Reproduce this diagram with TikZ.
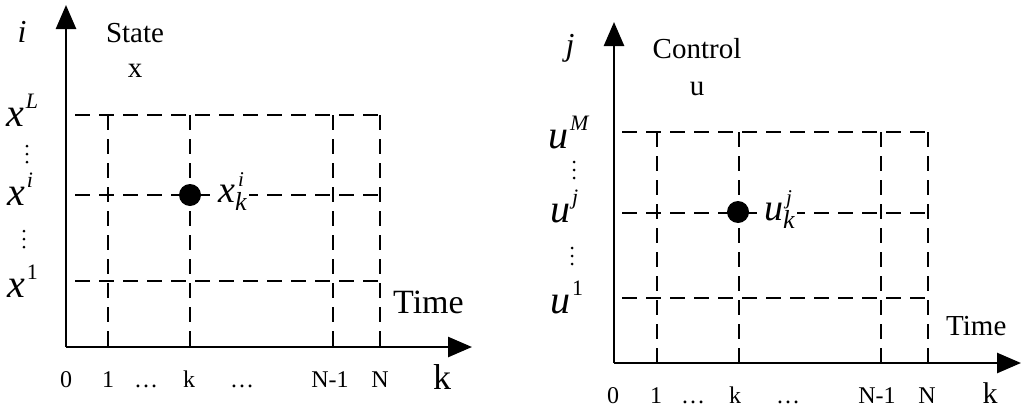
\documentclass[tikz,border=0pt]{standalone}
\usepackage{fontspec}
\setmainfont{Liberation Serif}
\usetikzlibrary{arrows.meta}
\newcommand\fs[1]{\fontsize{#1}{#1}\selectfont}
% variable with superscript
\newcommand\varsup[4]{{\fs{#1}\itshape #2}\hspace{2pt}\raisebox{#4}{\fs{22}\itshape #3}}
% variable with sub and superscript
\newcommand\varsubsup[3]{{\fs{38}\itshape #1}\rlap{\raisebox{16pt}{\hspace{3pt}\fs{21}\itshape #3}}\raisebox{-8pt}{\fs{26}\itshape #2}}
\newcommand\vdts{\tikz[baseline]{\foreach \yy in {0,8,16}{\fill (0,\yy pt) circle (1.5pt);}}}
\tikzset{
  ax/.style={line width=2.6pt, -{Triangle[length=24pt,width=20pt]}},
  gridline/.style={line width=2.5pt, dash pattern=on 15pt off 9pt},
  lbl/.style={inner sep=0pt, anchor=base},
  lblw/.style={inner sep=0pt, anchor=base west},
  dotnode/.style={circle, fill=black, minimum size=22pt, inner sep=0pt},
}
\begin{document}
\begin{tikzpicture}[x=1pt,y=-1pt]
\useasboundingbox (0,0) rectangle (1024,415);
%% ---------------- left panel ----------------
\coordinate (LO) at (66,347);
\coordinate (LY) at (66,5);
\coordinate (LX) at (472,347);
\foreach \yy/\nm in {115/t,195/m,281/b}{
  \coordinate (Lh\nm s) at (75,\yy);
  \coordinate (Lh\nm e) at (380,\yy);
}
\draw[gridline] (Lhts) -- (Lhte);
\draw[gridline] (Lhbs) -- (Lhbe);
\draw[gridline] (Lhms) -- (Lhme);
\foreach \xx/\nm in {108/a,190/b,333/c,380/d}{
  \coordinate (Lv\nm s) at (\xx,115);
  \coordinate (Lv\nm e) at (\xx,347);
  \draw[gridline] (Lv\nm s) -- (Lv\nm e);
}
\draw[ax] (LO) -- (LY);
\draw[ax] (LO) -- (LX);
\node[dotnode] (Ldot) at (190,195) {};
\node[lblw, fill=white, inner sep=2pt] (Ldotl) at (216,202) {\varsubsup{x}{k}{i}};
\node[lbl] (Li) at (22,42) {\fs{32}\itshape i};
\node[lbl] (Lstate) at (135,42) {\fs{29}State};
\node[lbl] (Lx) at (135,77) {\fs{29}x};
\node[lblw] (LxL) at (6,126) {\varsup{40}{x}{L}{18pt}};
\node[inner sep=0pt] (Ld1) at (27,154) {\vdts};
\node[lblw] (Lxi) at (7,205) {\varsup{40}{x}{i}{18pt}};
\node[inner sep=0pt] (Ld2) at (24,239) {\vdts};
\node[lblw] (Lx1) at (7,297) {\varsup{40}{x}{\upshape 1}{18pt}};
\node[lblw] (Ltime) at (393,313) {\fs{34}Time};
\foreach \xx/\tt/\nm in {66/0/a,108/1/b,146/\ldots/c,189/k/d,242/\ldots/e,330/N-1/f,380/N/g}{
  \node[lbl] (Lb\nm) at (\xx,387) {\fs{24}\tt};
}
\node[lbl] (Lk) at (442,389) {\fs{36}k};
%% ---------------- right panel ----------------
\coordinate (RO) at (614,363);
\coordinate (RY) at (614,22);
\coordinate (RX) at (1021,363);
\foreach \yy/\nm in {132/t,213/m,298/b}{
  \coordinate (Rh\nm s) at (622,\yy);
  \coordinate (Rh\nm e) at (928,\yy);
}
\draw[gridline] (Rhts) -- (Rhte);
\draw[gridline] (Rhbs) -- (Rhbe);
\draw[gridline] (Rhms) -- (Rhme);
\foreach \xx/\nm in {657/a,739/b,881/c,928/d}{
  \coordinate (Rv\nm s) at (\xx,132);
  \coordinate (Rv\nm e) at (\xx,363);
  \draw[gridline] (Rv\nm s) -- (Rv\nm e);
}
\draw[ax] (RO) -- (RY);
\draw[ax] (RO) -- (RX);
\node[dotnode] (Rdot) at (738,212) {};
\node[lblw, fill=white, inner sep=2pt] (Rdotl) at (762,220) {\varsubsup{u}{k}{j}};
\node[lbl] (Rj) at (570,55) {\fs{32}\itshape j};
\node[lbl] (Rcontrol) at (697,58) {\fs{29}Control};
\node[lbl] (Ru) at (697,95) {\fs{29}u};
\node[lblw] (RuM) at (548,148) {\varsup{40}{u}{M}{18pt}};
\node[inner sep=0pt] (Rd1) at (574,170) {\vdts};
\node[lblw] (Ruj) at (550,222) {\varsup{40}{u}{j}{18pt}};
\node[inner sep=0pt] (Rd2) at (572,256) {\vdts};
\node[lblw] (Ru1) at (550,313) {\varsup{40}{u}{\upshape 1}{18pt}};
\node[lblw] (Rtime) at (946,335) {\fs{29}Time};
\foreach \xx/\tt/\nm in {613/0/a,656/1/b,693/\ldots/c,735/k/d,788/\ldots/e,877/N-1/f,927/N/g}{
  \node[lbl] (Rb\nm) at (\xx,403) {\fs{24}\tt};
}
\node[lbl] (Rk) at (990,403) {\fs{30}k};
\end{tikzpicture}
\end{document}
